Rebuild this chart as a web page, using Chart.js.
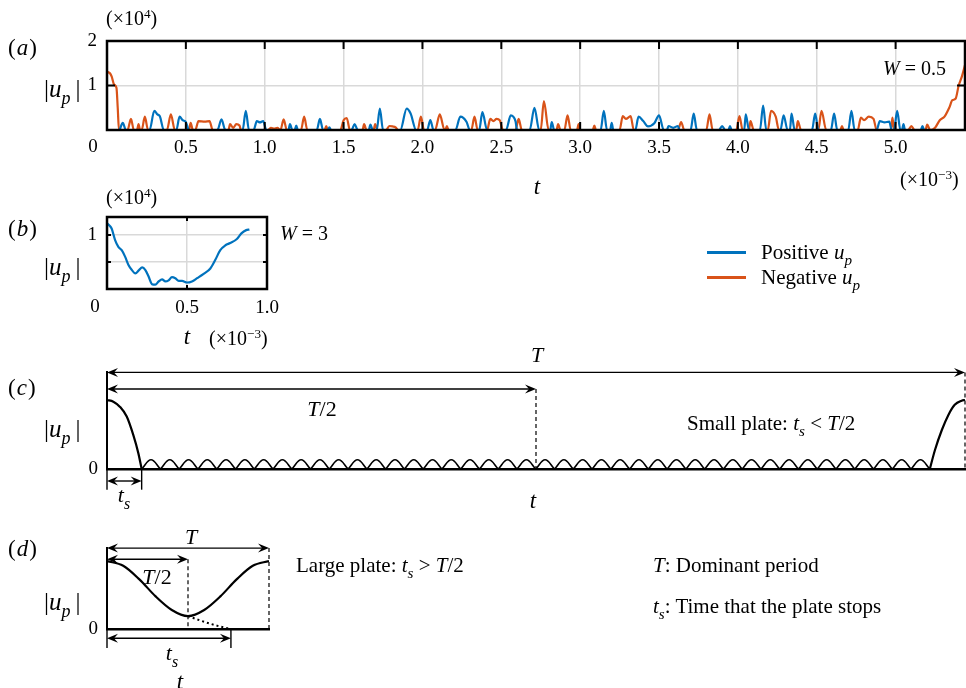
<!DOCTYPE html>
<html><head><meta charset="utf-8">
<script src="https://cdn.jsdelivr.net/npm/chart.js@4.4.0/dist/chart.umd.min.js"></script>
<style>
html,body{margin:0;padding:0;background:#fff;}
#wrap{position:relative;width:966px;height:688px;overflow:hidden;font-family:"Liberation Serif","Times New Roman",serif;color:#000;background:#fff;}
canvas{position:absolute;left:0;top:0;}
.lb{position:absolute;white-space:nowrap;line-height:1;}
.lb sub{font-size:0.72em;vertical-align:-0.42em;line-height:0;}
.lb sup{font-size:0.66em;vertical-align:0.55em;line-height:0;}
.lg{position:absolute;height:3px;}
</style></head><body><div id="wrap">
<canvas id="ca" width="966" height="688"></canvas>
<canvas id="cb" width="966" height="688"></canvas>
<canvas id="cc" width="966" height="688"></canvas>
<canvas id="cd" width="966" height="688"></canvas>
</div>
<script>
// ---------- data ----------
// (a) W = 0.5 : |u_p| (x10^4) vs t (x10^-3)
const posT = [0.08,0.10,0.12,0.27,0.30,0.32,0.335,0.36,0.44,0.46,0.48,0.50,0.52,0.70,0.726,0.75,0.86,0.88,0.90,0.93,0.95,0.97,0.99,1.01,1.15,1.16,1.175,1.19,1.20,1.21,1.33,1.35,1.37,1.40,1.41,1.42,1.55,1.57,1.59,1.66,1.67,1.685,1.71,1.73,1.75,1.86,1.90,1.925,1.96,2.03,2.05,2.07,2.21,2.24,2.28,2.30,2.36,2.38,2.41,2.53,2.56,2.59,2.60,2.68,2.71,2.74,2.81,2.82,2.835,3.13,3.15,3.17,3.19,3.20,3.21,3.35,3.37,3.40,3.43,3.47,3.50,3.53,3.55,3.56,3.59,3.62,3.63,3.70,3.72,3.74,3.88,3.90,3.92,3.94,3.95,3.96,4.04,4.05,4.07,4.14,4.16,4.18,4.27,4.29,4.315,4.33,4.34,4.36,4.47,4.49,4.51,4.59,4.61,4.63,4.70,4.72,4.74,4.88,4.90,4.93,4.96,4.975,4.99,5.01,5.03,5.04,5.05,5.06,5.16,5.17,5.18];
const posU = [0,0.16,0,0,0.43,0.35,0.31,0,0,0.30,0.22,0.18,0,0,0.24,0,0,0.43,0,0,0.20,0.17,0.20,0,0,0.13,0,0,0.10,0,0,0.25,0,0,0.06,0,0,0.13,0,0,0.12,0,0,0.48,0,0,0.48,0.37,0,0,0.22,0,0,0.30,0.18,0,0,0.40,0,0,0.33,0.20,0,0,0.50,0,0,0.18,0,0,0.43,0,0,0.16,0,0,0.30,0.20,0.08,0.15,0.33,0,0,0.09,0.05,0.09,0,0,0.37,0,0,0.09,0,0,0.09,0,0,0.35,0,0,0.55,0,0,0.33,0,0,0.37,0,0,0.37,0,0,0.37,0,0,0.43,0,0,0.20,0.17,0.19,0,0,0.43,0,0,0.13,0,0,0.09,0];
const negT = [0,0.02,0.03,0.045,0.06,0.068,0.076,0.13,0.152,0.17,0.19,0.20,0.21,0.22,0.24,0.26,0.38,0.405,0.43,0.52,0.53,0.545,0.56,0.58,0.62,0.65,0.67,0.77,0.78,0.80,0.82,0.84,0.85,1.02,1.04,1.06,1.08,1.10,1.12,1.14,1.23,1.25,1.27,1.38,1.39,1.40,1.48,1.50,1.52,1.54,1.62,1.63,1.645,1.69,1.70,1.715,1.77,1.79,1.81,1.83,1.845,1.97,1.99,2.01,2.08,2.11,2.14,2.145,2.155,2.165,2.31,2.33,2.35,2.41,2.43,2.45,2.47,2.49,2.51,2.59,2.61,2.63,2.75,2.77,2.80,2.85,2.86,2.875,2.90,2.92,2.94,2.98,2.99,3.00,3.08,3.09,3.10,3.25,3.27,3.29,3.32,3.34,3.62,3.64,3.66,3.80,3.82,3.84,3.99,4.01,4.03,4.07,4.08,4.10,4.19,4.21,4.24,4.26,4.37,4.38,4.40,4.51,4.53,4.56,4.65,4.66,4.67,4.76,4.78,4.80,4.83,4.86,4.88,4.97,4.98,4.99,5.08,5.10,5.12,5.19,5.20,5.22,5.25,5.28,5.31,5.34,5.36,5.38,5.40,5.42,5.44];
const negU = [1.31,1.27,1.20,1.02,0.95,0.50,0,0,0.25,0,0,0.13,0,0,0.30,0,0,0.35,0,0,0.16,0,0,0.20,0.19,0.20,0,0,0.13,0.05,0.13,0.10,0,0,0.05,0.03,0.05,0,0.24,0,0,0.30,0,0,0.09,0,0,0.22,0.27,0,0,0.13,0,0,0.13,0,0,0.09,0.08,0.06,0,0,0.30,0,0,0.35,0,0,0.09,0,0,0.30,0,0,0.25,0.20,0.25,0.22,0,0,0.25,0,0,0.65,0,0,0.13,0,0,0.33,0,0,0.13,0,0,0.10,0,0,0.31,0.25,0.31,0,0,0.18,0,0,0.35,0,0,0.31,0,0,0.20,0,0,0.43,0.30,0,0,0.20,0,0,0.43,0,0,0.09,0,0,0.28,0.22,0.30,0.25,0,0,0.28,0,0,0.09,0,0,0.12,0,0.05,0.22,0.30,0.50,0.67,0.70,1.00,1.20,1.46];
const aXTicks = ['0','0.5','1.0','1.5','2.0','2.5','3.0','3.5','4.0','4.5','5.0'];

// (b) W = 3 : positive u_p only
const bT = [0,0.029,0.05,0.071,0.092,0.113,0.135,0.156,0.177,0.20,0.22,0.24,0.26,0.281,0.302,0.323,0.344,0.365,0.385,0.406,0.427,0.448,0.469,0.50,0.531,0.563,0.604,0.646,0.677,0.708,0.74,0.77,0.81,0.84,0.87,0.89];
const bU = [1.22,1.12,0.91,0.78,0.72,0.60,0.44,0.35,0.29,0.35,0.40,0.35,0.23,0.09,0.08,0.14,0.18,0.14,0.16,0.22,0.20,0.15,0.15,0.12,0.14,0.20,0.28,0.38,0.54,0.72,0.81,0.85,0.92,1.03,1.09,1.10];

// (c) small plate schematic (t in units of T, |u_p| relative)
const cLeftT = [0,0.0074,0.0152,0.023,0.0307,0.0365,0.0404];
const cLeftU = [1.0,0.976,0.90,0.76,0.49,0.23,0];
const cRightT = [0.959,0.965,0.973,0.9805,0.988,0.996,1.0];
const cRightU = [0,0.275,0.565,0.78,0.93,0.99,1.0];
const humpZeroT = [0.0404,0.0623,0.0841,0.1060,0.1279,0.1498,0.1716,0.1935,0.2154,0.2372,0.2591,0.2810,0.3029,0.3247,0.3466,0.3685,0.3903,0.4122,0.4341,0.4560,0.4778,0.4997,0.5216,0.5434,0.5653,0.5872,0.6091,0.6309,0.6528,0.6747,0.6965,0.7184,0.7403,0.7622,0.7840,0.8059,0.8278,0.8496,0.8715,0.8934,0.9153,0.9371,0.9590];
const humpPeakT = [0.0513,0.0732,0.0951,0.1169,0.1388,0.1607,0.1826,0.2044,0.2263,0.2482,0.2700,0.2919,0.3138,0.3357,0.3575,0.3794,0.4013,0.4231,0.4450,0.4669,0.4888,0.5106,0.5325,0.5544,0.5763,0.5981,0.6200,0.6419,0.6637,0.6856,0.7075,0.7294,0.7512,0.7731,0.7950,0.8168,0.8387,0.8606,0.8825,0.9043,0.9262,0.9481];
const humpPeakU = 0.135;

// (d) large plate schematic
const dT = [0,0.1,0.2,0.3,0.4,0.5,0.6,0.7,0.8,0.9,1.0];
const dU = [1.0,0.93,0.73,0.48,0.28,0.19,0.28,0.48,0.73,0.93,1.0];
const dDotT = [0.5,0.57,0.634,0.70,0.765];
const dDotU = [0.19,0.13,0.08,0.035,0];

// ---------- styling ----------
const BLUE = '#0072BD', ORANGE = '#D95319', GRID = '#d9d9d9';
const SERIF = '"Liberation Serif","Times New Roman",serif';

function arrowHead(ctx, x, y, dir) {
  const L = 11, H = 4.5, N = 7;
  ctx.beginPath();
  ctx.moveTo(x, y);
  ctx.lineTo(x - dir * L, y - H);
  ctx.lineTo(x - dir * N, y);
  ctx.lineTo(x - dir * L, y + H);
  ctx.closePath();
  ctx.fill();
}

const annotPlugin = {
  id: 'annot',
  afterDatasetsDraw(chart, args, o) {
    const ctx = chart.ctx, xs = chart.scales.x, ys = chart.scales.y, a = chart.chartArea;
    ctx.save();
    ctx.strokeStyle = '#000'; ctx.fillStyle = '#000';
    (o.vlines || []).forEach(v => {
      ctx.beginPath();
      ctx.setLineDash(v.dash || []);
      ctx.lineWidth = v.w || 1.2;
      const x = xs.getPixelForValue(v.x);
      ctx.moveTo(x, ys.getPixelForValue(v.y1));
      ctx.lineTo(x, ys.getPixelForValue(v.y2));
      ctx.stroke();
    });
    ctx.setLineDash([]);
    (o.arrows || []).forEach(ar => {
      const x1 = xs.getPixelForValue(ar.x1), x2 = xs.getPixelForValue(ar.x2), y = ys.getPixelForValue(ar.y);
      ctx.lineWidth = 1.4;
      ctx.beginPath(); ctx.moveTo(x1 + 4, y); ctx.lineTo(x2 - 4, y); ctx.stroke();
      arrowHead(ctx, x1, y, -1);
      arrowHead(ctx, x2, y, 1);
    });
    if (o.tickLen) {
      ctx.lineWidth = 2;
      const L = o.tickLen;
      xs.ticks.forEach(t => {
        if (t.value <= xs.min || t.value >= xs.max) return;
        const x = xs.getPixelForValue(t.value);
        ctx.beginPath();
        ctx.moveTo(x, a.top); ctx.lineTo(x, a.top + L);
        ctx.moveTo(x, a.bottom); ctx.lineTo(x, a.bottom - L);
        ctx.stroke();
      });
      ys.ticks.forEach(t => {
        if (t.value <= ys.min || t.value >= ys.max) return;
        const y = ys.getPixelForValue(t.value);
        ctx.beginPath();
        ctx.moveTo(a.left, y); ctx.lineTo(a.left + L, y);
        ctx.moveTo(a.right, y); ctx.lineTo(a.right - L, y);
        ctx.stroke();
      });
    }
    if (o.frame) {
      ctx.lineWidth = 2.5;
      ctx.strokeRect(a.left, a.top, a.right - a.left, a.bottom - a.top);
    }
    if (o.zeroDx !== undefined) {
      ctx.font = '19px ' + SERIF;
      ctx.textAlign = 'center'; ctx.textBaseline = 'middle';
      ctx.fillText('0', xs.getPixelForValue(0) + o.zeroDx, a.bottom + o.zeroDy);
    }
    ctx.restore();
  }
};

const tickFont = { family: SERIF, size: 19 };
const base = { responsive: false, animation: false, events: [], maintainAspectRatio: false };

// ---------- (a) ----------
new Chart(document.getElementById('ca'), {
  type: 'line',
  data: { datasets: [
    { label: 'Positive u_p', data: posT.map((t, i) => ({ x: t, y: posU[i] })), borderColor: BLUE, borderWidth: 2.2, pointRadius: 0, cubicInterpolationMode: 'monotone', fill: false },
    { label: 'Negative u_p', data: negT.map((t, i) => ({ x: t, y: negU[i] })), borderColor: ORANGE, borderWidth: 2.2, pointRadius: 0, cubicInterpolationMode: 'monotone', fill: false }
  ] },
  options: Object.assign({}, base, {
    layout: { padding: { left: 0, top: 41, right: 1, bottom: 528 } },
    plugins: { legend: { display: false }, tooltip: { enabled: false }, annot: { frame: true, tickLen: 8, zeroDx: -14, zeroDy: 17.5 } },
    scales: {
      x: { type: 'linear', min: 0, max: 5.44, afterFit: s => { s.height = 30; }, border: { display: false },
        grid: { color: GRID, lineWidth: 1.5, drawTicks: false },
        ticks: { stepSize: 0.5, includeBounds: false, padding: 7, color: '#000', font: tickFont, maxRotation: 0, autoSkip: false,
          callback: (v) => { const i = Math.round(v / 0.5); return i === 0 ? '' : aXTicks[i]; } } },
      y: { type: 'linear', min: 0, max: 2, afterFit: s => { s.width = 107; }, border: { display: false },
        grid: { color: GRID, lineWidth: 1.5, drawTicks: false },
        ticks: { stepSize: 1, includeBounds: false, padding: 10, color: '#000', font: tickFont, callback: v => v === 0 ? '' : String(v) } }
    }
  }),
  plugins: [annotPlugin]
});

// ---------- (b) ----------
new Chart(document.getElementById('cb'), {
  type: 'line',
  data: { datasets: [
    { label: 'Positive u_p', data: bT.map((t, i) => ({ x: t, y: bU[i] })), borderColor: BLUE, borderWidth: 2.2, pointRadius: 0, cubicInterpolationMode: 'monotone', fill: false }
  ] },
  options: Object.assign({}, base, {
    layout: { padding: { left: 0, top: 217, right: 699, bottom: 369 } },
    plugins: { legend: { display: false }, tooltip: { enabled: false }, annot: { frame: true, tickLen: 4, zeroDx: -12, zeroDy: 18 } },
    scales: {
      x: { type: 'linear', min: 0, max: 1, afterFit: s => { s.height = 30; }, border: { display: false },
        grid: { color: GRID, lineWidth: 1.5, drawTicks: false },
        ticks: { stepSize: 0.5, includeBounds: false, padding: 8, color: '#000', font: tickFont, maxRotation: 0, autoSkip: false,
          callback: v => v === 0 ? '' : v.toFixed(1) } },
      y: { type: 'linear', min: 0, max: 1.333, afterFit: s => { s.width = 107; }, border: { display: false },
        grid: { color: GRID, lineWidth: 1.5, drawTicks: false },
        ticks: { stepSize: 0.5, includeBounds: false, padding: 10, color: '#000', font: tickFont, callback: v => Math.abs(v - 1) < 1e-6 ? '1' : '' } }
    }
  }),
  plugins: [annotPlugin]
});

// ---------- (c) ----------
const humpData = [];
humpPeakT.forEach((p, i) => {
  humpData.push({ x: humpZeroT[i], y: 0 });
  humpData.push({ x: humpZeroT[i], y: 0 });
  humpData.push({ x: p, y: humpPeakU });
});
humpData.push({ x: humpZeroT[humpZeroT.length - 1], y: 0 });

function schematicScales(ymax) {
  return {
    x: { type: 'linear', min: 0, max: 1, afterFit: s => { s.height = 10; },
      border: { display: true, color: '#000', width: 2.5 }, grid: { display: false, drawTicks: false }, ticks: { display: false } },
    y: { type: 'linear', min: 0, max: ymax, afterFit: s => { s.width = 107; },
      afterBuildTicks: s => { s.ticks = [{ value: 0 }]; },
      border: { display: true, color: '#000', width: 2 }, grid: { display: false, drawTicks: false },
      ticks: { padding: 9, color: '#000', font: tickFont, callback: () => '0' } }
  };
}

new Chart(document.getElementById('cc'), {
  type: 'line',
  data: { datasets: [
    { data: cLeftT.map((t, i) => ({ x: t, y: cLeftU[i] })), borderColor: '#000', borderWidth: 2.2, pointRadius: 0, cubicInterpolationMode: 'monotone' },
    { data: humpData, borderColor: '#000', borderWidth: 1.6, pointRadius: 0, tension: 0.4 },
    { data: cRightT.map((t, i) => ({ x: t, y: cRightU[i] })), borderColor: '#000', borderWidth: 2.2, pointRadius: 0, cubicInterpolationMode: 'monotone' }
  ] },
  options: Object.assign({}, base, {
    layout: { padding: { left: 0, top: 372.4, right: 1, bottom: 209 } },
    plugins: { legend: { display: false }, tooltip: { enabled: false },
      annot: {
        arrows: [{ x1: 0, x2: 1, y: 1.4 }, { x1: 0, x2: 0.5, y: 1.16 }, { x1: 0, x2: 0.0404, y: -0.174 }],
        vlines: [{ x: 0.5, y1: 1.16, y2: 0, dash: [4, 3] }, { x: 1, y1: 1.4, y2: 0, dash: [4, 3] },
                 { x: 0, y1: 0, y2: -0.3, w: 1.4 }, { x: 0.0404, y1: 0, y2: -0.3, w: 1.4 }]
      } },
    scales: schematicScales(1.4)
  }),
  plugins: [annotPlugin]
});

// ---------- (d) ----------
new Chart(document.getElementById('cd'), {
  type: 'line',
  data: { datasets: [
    { data: dT.map((t, i) => ({ x: t, y: dU[i] })), borderColor: '#000', borderWidth: 2.2, pointRadius: 0, cubicInterpolationMode: 'monotone' },
    { data: dDotT.map((t, i) => ({ x: t, y: dDotU[i] })), borderColor: '#000', borderWidth: 2, borderDash: [2, 3], pointRadius: 0, cubicInterpolationMode: 'monotone' }
  ] },
  options: Object.assign({}, base, {
    layout: { padding: { left: 0, top: 548.1, right: 697, bottom: 49 } },
    plugins: { legend: { display: false }, tooltip: { enabled: false },
      annot: {
        arrows: [{ x1: 0, x2: 1, y: 1.19 }, { x1: 0, x2: 0.5, y: 1.025 }, { x1: 0, x2: 0.765, y: -0.137 }],
        vlines: [{ x: 0.5, y1: 1.025, y2: 0, dash: [4, 3] }, { x: 1, y1: 1.19, y2: 0, dash: [4, 3] },
                 { x: 0, y1: 0, y2: -0.28, w: 1.4 }, { x: 0.765, y1: 0, y2: -0.28, w: 1.4 }]
      } },
    scales: schematicScales(1.19)
  }),
  plugins: [annotPlugin]
});

// ---------- text ----------
const WR = document.getElementById('wrap');
function lab(html, x, y, al, size) {
  const d = document.createElement('div');
  d.className = 'lb'; d.innerHTML = html;
  d.style.fontSize = size + 'px'; d.style.top = y + 'px';
  if (al === 'l') { d.style.left = x + 'px'; d.style.transform = 'translateY(-50%)'; }
  else if (al === 'c') { d.style.left = x + 'px'; d.style.transform = 'translate(-50%,-50%)'; }
  else { d.style.right = (966 - x) + 'px'; d.style.transform = 'translateY(-50%)'; }
  WR.appendChild(d);
  return d;
}
const UP = '|<i>u<sub>p</sub></i>&thinsp;|';
const PL = s => '(<i style="padding:0 1px">' + s + '</i>)';
// (a)
lab(PL('a'), 8, 47, 'l', 23);
lab('(×10<sup>4</sup>)', 106, 18, 'l', 20);
lab(UP, 44, 88, 'l', 25);
lab('<i>W</i> = 0.5', 946, 68, 'r', 20);
lab('<i>t</i>', 537, 186, 'c', 23);
lab('(×10<sup>−3</sup>)', 900, 179, 'l', 20);
// (b)
lab(PL('b'), 8, 228, 'l', 23);
lab('(×10<sup>4</sup>)', 106, 197, 'l', 20);
lab(UP, 44, 266, 'l', 25);
lab('<i>W</i> = 3', 280, 233, 'l', 20);
lab('<i>t</i>', 187, 336, 'c', 23);
lab('(×10<sup>−3</sup>)', 209, 338, 'l', 20);
// legend
[[BLUE, 252, 'Positive'], [ORANGE, 277, 'Negative']].forEach(([c, y, s]) => {
  const d = document.createElement('div'); d.className = 'lg';
  d.style.left = '707px'; d.style.width = '39px'; d.style.top = (y - 1.5) + 'px'; d.style.background = c;
  WR.appendChild(d);
  lab(s + ' <i>u<sub>p</sub></i>', 761, y, 'l', 21);
});
// (c)
lab(PL('c'), 8, 387, 'l', 23);
lab('<i>T</i>', 537, 355, 'c', 22);
lab('<i>T</i>/2', 322, 409, 'c', 22);
lab('Small plate: <i>t<sub>s</sub></i> &lt; <i>T</i>/2', 687, 423, 'l', 21);
lab(UP, 44, 428, 'l', 25);
lab('<i>t<sub>s</sub></i>', 124, 495, 'c', 22);
lab('<i>t</i>', 533, 500, 'c', 23);
// (d)
lab(PL('d'), 8, 548, 'l', 23);
lab('<i>T</i>', 191, 537, 'c', 22);
lab('<i>T</i>/2', 157, 577, 'c', 22);
lab('Large plate: <i>t<sub>s</sub></i> &gt; <i>T</i>/2', 296, 565, 'l', 21);
lab(UP, 44, 601, 'l', 25);
lab('<i>t<sub>s</sub></i>', 172, 653, 'c', 22);
lab('<i>t</i>', 180, 681, 'c', 23);
lab('<i>T</i>: Dominant period', 653, 565, 'l', 21);
lab('<i>t<sub>s</sub></i>: Time that the plate stops', 653, 606, 'l', 21);
</script>
</body></html>
